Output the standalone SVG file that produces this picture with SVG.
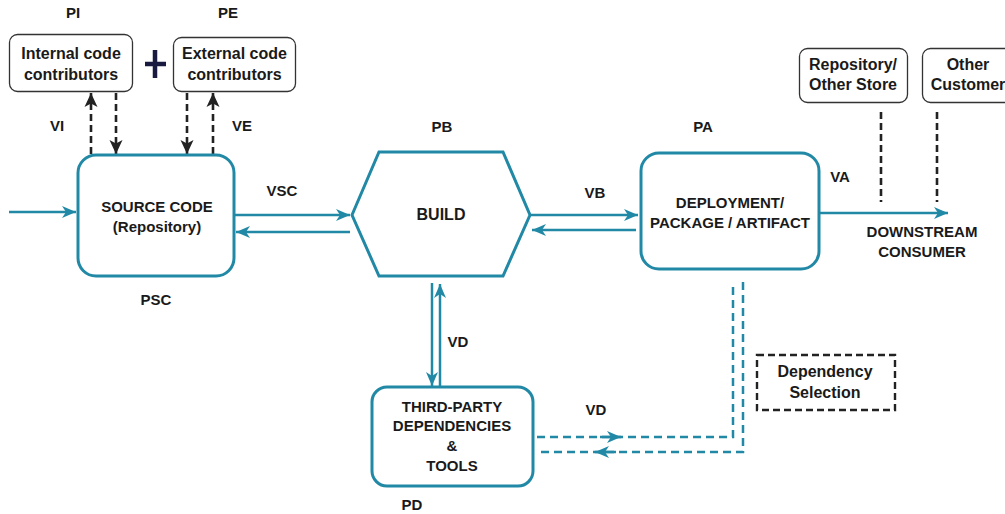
<svg xmlns="http://www.w3.org/2000/svg" width="1005" height="514" viewBox="0 0 1005 514">
<defs>
<style>
.t{font-family:"Liberation Sans",Arial,sans-serif;font-weight:bold;fill:#1a1a1a;text-anchor:middle}
.lbl{font-size:15px}
.nt{font-size:15px}
.st{font-size:16px}
.node{fill:#ffffff;stroke:#2189a5;stroke-width:3}
.small{fill:#ffffff;stroke:#333333;stroke-width:1.3}
.tl{fill:none;stroke:#2189a5;stroke-width:2.5}
.td{fill:none;stroke:#2189a5;stroke-width:2.5;stroke-dasharray:8 5}
.bd{fill:none;stroke:#222222;stroke-width:2.6;stroke-dasharray:7 4}
</style>
<marker id="ta" markerUnits="userSpaceOnUse" markerWidth="16" markerHeight="14" refX="14" refY="7" orient="auto">
<path d="M0,1 L14,7 L0,13 L4,7 Z" fill="#2189a5"/>
</marker>
<marker id="ba" markerUnits="userSpaceOnUse" markerWidth="16" markerHeight="16" refX="14" refY="7" orient="auto">
<path d="M0,0.5 L14,7 L0,13.5 L3.5,7 Z" fill="#222222"/>
</marker>
</defs>

<g id="connectors">
<path class="tl" d="M9,212 L76,212" marker-end="url(#ta)"/>
<path class="tl" d="M234,215 L350,215" marker-end="url(#ta)"/>
<path class="tl" d="M350,232 L236,232" marker-end="url(#ta)"/>
<path class="tl" d="M530,215 L638,215" marker-end="url(#ta)"/>
<path class="tl" d="M636,230 L532,230" marker-end="url(#ta)"/>
<path class="tl" d="M820,213 L948,213" marker-end="url(#ta)"/>
<path class="tl" stroke-width="2" d="M432,283 L432,386" marker-end="url(#ta)"/>
<path class="tl" stroke-width="3" d="M440,386 L440,284" marker-end="url(#ta)"/>
<path class="td" d="M537,437 L733,437 L733,282"/>
<path class="td" d="M743,282 L743,452 L537,452"/>
<path class="tl" stroke-width="0.1" d="M600,437 L621,437" marker-end="url(#ta)"/>
<path class="tl" stroke-width="0.1" d="M616,452 L595,452" marker-end="url(#ta)"/>
<path class="bd" d="M91,154 L91,93" marker-end="url(#ba)"/>
<path class="bd" d="M116,93 L116,154" marker-end="url(#ba)"/>
<path class="bd" d="M187,93 L187,154" marker-end="url(#ba)"/>
<path class="bd" d="M213,154 L213,93" marker-end="url(#ba)"/>
<path class="bd" d="M881,112 L881,202"/>
<path class="bd" d="M937,112 L937,202"/>
</g>

<g id="internal">
<rect class="small" x="9.5" y="34.5" width="123" height="57" rx="8"/>
<text class="t st" x="71" y="59">Internal code</text>
<text class="t st" x="71" y="80">contributors</text>
</g>
<g id="plus">
<path d="M155,50 L155,78 M145,64 L166,64" stroke="#1a1a40" stroke-width="4.5" fill="none"/>
</g>
<g id="external">
<rect class="small" x="173.5" y="37.5" width="122" height="54" rx="8"/>
<text class="t st" x="234.5" y="59">External code</text>
<text class="t st" x="234.5" y="80">contributors</text>
</g>

<g id="labels">
<text class="t lbl" x="73" y="18">PI</text>
<text class="t lbl" x="228" y="18">PE</text>
<text class="t lbl" x="57" y="131">VI</text>
<text class="t lbl" x="242" y="131">VE</text>
<text class="t lbl" x="282" y="196">VSC</text>
<text class="t lbl" x="156" y="305">PSC</text>
<text class="t lbl" x="442" y="132">PB</text>
<text class="t lbl" x="595" y="198">VB</text>
<text class="t lbl" x="703" y="132">PA</text>
<text class="t lbl" x="840" y="182">VA</text>
<text class="t lbl" x="922" y="237">DOWNSTREAM</text>
<text class="t lbl" x="922" y="257">CONSUMER</text>
<text class="t lbl" x="458" y="347">VD</text>
<text class="t lbl" x="596" y="415">VD</text>
<text class="t lbl" x="412" y="510">PD</text>
</g>

<g id="source">
<rect class="node" x="78" y="155" width="156" height="121" rx="18"/>
<text class="t nt" x="157" y="212">SOURCE CODE</text>
<text class="t nt" x="157" y="232">(Repository)</text>
</g>

<g id="build">
<polygon class="node" points="352,215 379,152 503,152 530,215 503,276 379,276"/>
<text class="t st" x="441" y="220">BUILD</text>
</g>

<g id="deployment">
<rect class="node" x="641" y="153" width="178" height="116" rx="18"/>
<text class="t nt" x="730" y="208">DEPLOYMENT/</text>
<text class="t nt" x="730" y="228">PACKAGE / ARTIFACT</text>
</g>

<g id="repository">
<rect class="small" x="799.5" y="48.5" width="108" height="54" rx="8"/>
<text class="t st" x="853" y="70">Repository/</text>
<text class="t st" x="853" y="90">Other Store</text>
</g>

<g id="customer">
<rect class="small" x="922.5" y="48.5" width="100" height="54" rx="8"/>
<text class="t st" x="968" y="70">Other</text>
<text class="t st" x="968" y="90">Customer</text>
</g>

<g id="thirdparty">
<rect class="node" x="372" y="387" width="161" height="99" rx="15"/>
<text class="t nt" x="452" y="412">THIRD-PARTY</text>
<text class="t nt" x="452" y="431">DEPENDENCIES</text>
<text class="t nt" x="452" y="451">&amp;</text>
<text class="t nt" x="452" y="471">TOOLS</text>
</g>

<g id="depselection">
<rect x="757" y="355" width="138" height="55" fill="#ffffff" stroke="#222222" stroke-width="2.4" stroke-dasharray="7 4"/>
<text class="t st" x="825" y="377">Dependency</text>
<text class="t st" x="825" y="398">Selection</text>
</g>
</svg>
